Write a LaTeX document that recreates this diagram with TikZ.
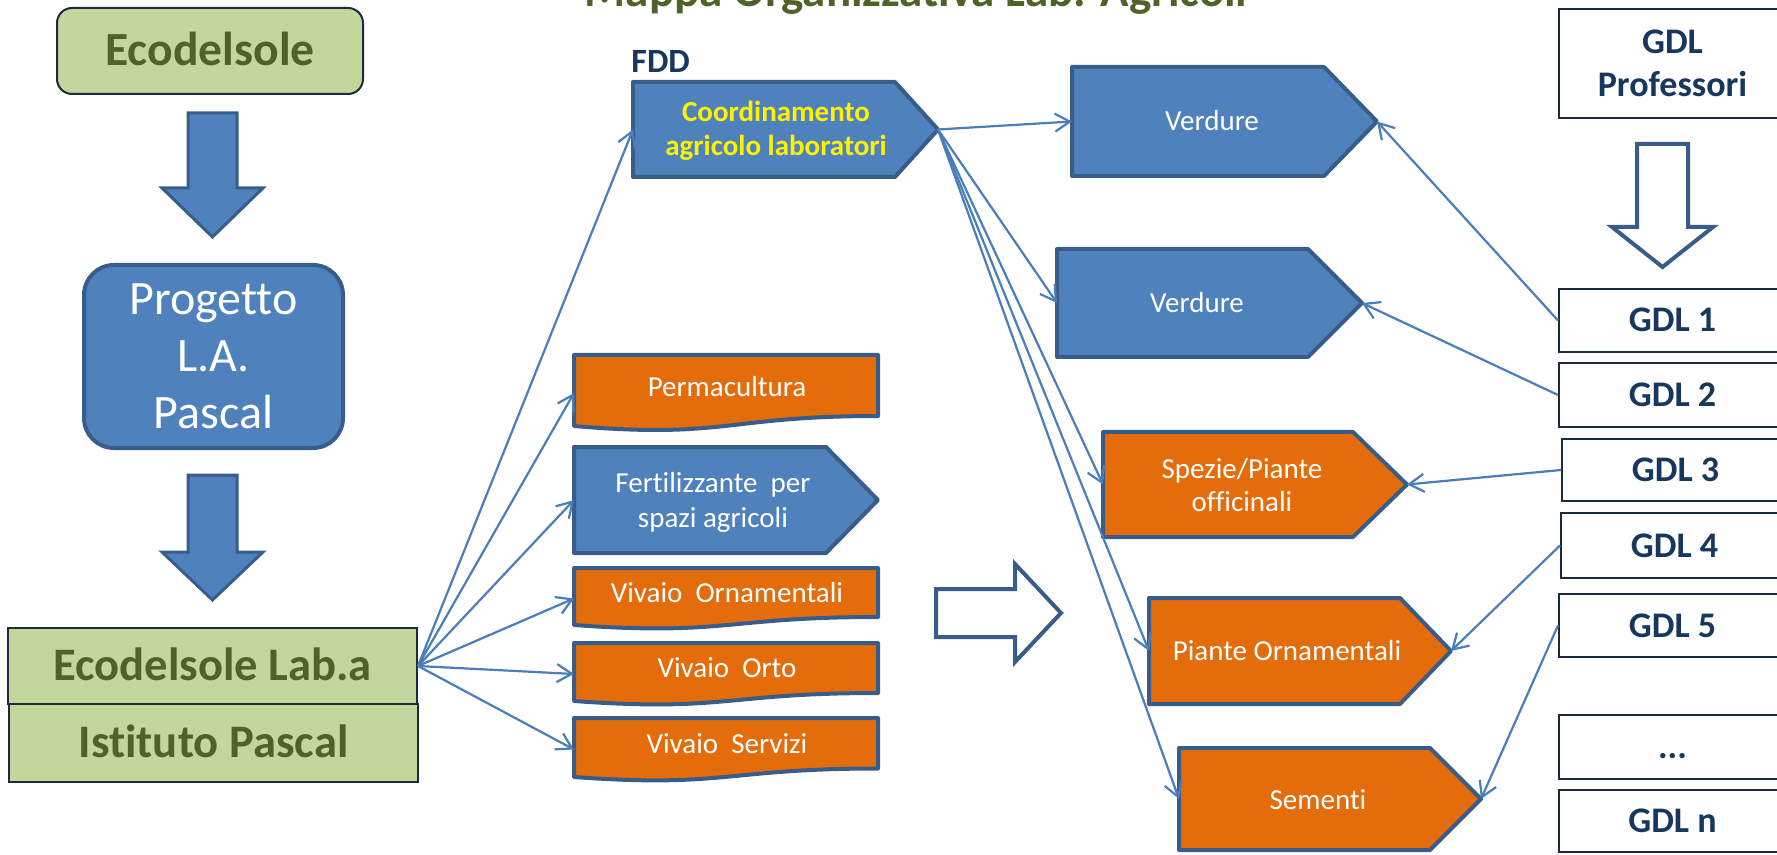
\documentclass[tikz,border=0pt]{standalone}
\usepackage{fontspec}
\setmainfont{Carlito}[Ligatures={NoCommon,NoRequired,NoContextual}]
\usetikzlibrary{arrows.meta,calc}
\newdimen\pxu \pxu=0.5pt
\definecolor{bfill}{HTML}{4F81BD}
\definecolor{bline}{HTML}{385D8A}
\definecolor{ofill}{HTML}{E46C0A}
\definecolor{gfill}{HTML}{C3D69B}
\definecolor{gtext}{HTML}{4F6228}
\definecolor{navy}{HTML}{17375E}
\definecolor{conn}{HTML}{4A7EBB}
\definecolor{gbord}{HTML}{1C2B40}
\begin{document}
\begin{tikzpicture}[x=0.5pt,y=-0.5pt,
  bbx/.style={inner sep=0pt, outer sep=0pt},
  blueshape/.style={fill=bfill, draw=bline, line width=2pt, line join=round},
  orangeshape/.style={fill=ofill, draw=bline, line width=2pt, line join=round},
  bigarrow/.style={fill=bfill, draw=bline, line width=1.5pt, line join=miter},
  hollowarrow/.style={fill=white, draw=bline, line width=2pt, line join=miter},
  greenbox/.style={fill=gfill, draw=gbord, line width=1pt, inner sep=0pt, text height=14.8pt, text depth=0pt, font=\bfseries\fontsize{23.3}{27}\selectfont, text=gtext},
  gdlbox/.style={fill=white, draw=gbord, line width=1pt, inner sep=0pt, font=\bfseries\fontsize{18}{21.5}\selectfont, text=navy},
  gdlone/.style={gdlbox, text height=11.5pt, text depth=0pt},
  smalltxt/.style={inner sep=0pt, text=white, font=\fontsize{14.5}{17}\selectfont},
  link/.style={draw=conn, line width=1.1pt, -{Straight Barb[length=7.5pt,width=9pt]}},
]
\useasboundingbox (0,0) rectangle (1777,855);

% title
\node[anchor=base, inner sep=0pt, text=gtext, font=\bfseries\fontsize{23.5}{28}\selectfont] (title) at (916,7) {Mappa Organizzativa Lab. Agricoli};

% left column
\node[greenbox, font=\bfseries\fontsize{23.8}{27}\selectfont, rounded corners=7.5pt, minimum width=306\pxu, minimum height=86\pxu] (eco) at (210,51) {Ecodelsole};
\draw[bigarrow] (188,113) -- (237,113) -- (237,188) -- (263,188) -- (212.5,237) -- (162,188) -- (188,188) -- cycle;
\node[fill=bfill, draw=bline, line width=2pt, rounded corners=15pt, minimum width=259\pxu, minimum height=183\pxu, inner sep=0pt, text=white, align=center, font=\fontsize{24}{28.5}\selectfont] (prog) at (213.5,356.5) {Progetto\\L.A.\\Pascal};
\draw[bigarrow] (188,475) -- (237,475) -- (237,552) -- (263,552) -- (212.5,600) -- (162,552) -- (188,552) -- cycle;
\node[greenbox, minimum width=409\pxu, minimum height=76\pxu] (laba) at (212.5,666) {Ecodelsole Lab.a};
\node[greenbox, minimum width=409\pxu, minimum height=78\pxu] (ist) at (213.5,743) {Istituto Pascal};

% FDD
\node[anchor=base west, inner sep=0pt, text=navy, font=\bfseries\fontsize{17}{20}\selectfont] (fdd) at (631,73) {FDD};

% Coordinamento
\node[bbx, minimum width=305\pxu, minimum height=95\pxu] (coord) at (785.5,129.5) {};
\draw[blueshape] (coord.north west) -- ([xshift=-43\pxu]coord.north east) -- (coord.east) -- ([xshift=-43\pxu]coord.south east) -- (coord.south west) -- cycle;
\node[smalltxt, text=yellow, align=center, font=\bfseries\fontsize{14.5}{17}\selectfont] (coordt) at (776,131) {Coordinamento\\agricolo laboratori};

% middle column
\node[bbx, minimum width=304\pxu, minimum height=76\pxu] (perma) at (726,393) {};
\draw[orangeshape] (574,355) -- (878,355) -- (878,416) .. controls (726,416) and (726,439) .. (574,426) -- cycle;
\node[smalltxt, anchor=base] (permat) at (727,397) {Permacultura};

\node[bbx, minimum width=304\pxu, minimum height=106\pxu] (fert) at (726,500) {};
\draw[blueshape] (fert.north west) -- ([xshift=-52\pxu]fert.north east) -- (fert.east) -- ([xshift=-52\pxu]fert.south east) -- (fert.south west) -- cycle;
\node[smalltxt, align=center, font=\fontsize{14.5}{17.5}\selectfont] (fertt) at (713,502.5) {Fertilizzante~ per\\spazi agricoli};

\node[bbx, minimum width=304\pxu, minimum height=61\pxu] (vorn) at (726,598.5) {};
\draw[orangeshape] (574,568) -- (878,568) -- (878,617) .. controls (726,617) and (726,636) .. (574,625) -- cycle;
\node[smalltxt, anchor=base] (vornt) at (727,602) {Vivaio~ Ornamentali};

\node[bbx, minimum width=304\pxu, minimum height=62\pxu] (vorto) at (726,674) {};
\draw[orangeshape] (574,643) -- (878,643) -- (878,693) .. controls (726,693) and (726,712) .. (574,701) -- cycle;
\node[smalltxt, anchor=base] (vortot) at (727,677) {Vivaio~ Orto};

\node[bbx, minimum width=304\pxu, minimum height=63\pxu] (vserv) at (726,749.5) {};
\draw[orangeshape] (574,718) -- (878,718) -- (878,768.5) .. controls (726,768.5) and (726,788) .. (574,777) -- cycle;
\node[smalltxt, anchor=base] (vservt) at (727,753) {Vivaio~ Servizi};

% hollow arrow
\draw[hollowarrow] (936,589) -- (1015,589) -- (1015,564) -- (1061,613) -- (1015,662) -- (1015,637) -- (936,637) -- cycle;

% right-middle column
\node[bbx, minimum width=305\pxu, minimum height=109\pxu] (verd1) at (1224.5,121.5) {};
\draw[blueshape] (verd1.north west) -- ([xshift=-53\pxu]verd1.north east) -- (verd1.east) -- ([xshift=-53\pxu]verd1.south east) -- (verd1.south west) -- cycle;
\node[smalltxt, anchor=base] (verd1t) at (1212,131) {Verdure};

\node[bbx, minimum width=305\pxu, minimum height=108\pxu] (verd2) at (1209.5,303) {};
\draw[blueshape] (verd2.north west) -- ([xshift=-54\pxu]verd2.north east) -- (verd2.east) -- ([xshift=-54\pxu]verd2.south east) -- (verd2.south west) -- cycle;
\node[smalltxt, anchor=base] (verd2t) at (1197,312.5) {Verdure};

\node[bbx, minimum width=304\pxu, minimum height=105\pxu] (spez) at (1255,484.5) {};
\draw[orangeshape] (spez.north west) -- ([xshift=-54\pxu]spez.north east) -- (spez.east) -- ([xshift=-54\pxu]spez.south east) -- (spez.south west) -- cycle;
\node[smalltxt, align=center, font=\fontsize{14.5}{16.5}\selectfont] (spezt) at (1242,485) {Spezie/Piante\\officinali};

\node[bbx, minimum width=302\pxu, minimum height=106\pxu] (piante) at (1300,651) {};
\draw[orangeshape] (piante.north west) -- ([xshift=-51\pxu]piante.north east) -- (piante.east) -- ([xshift=-51\pxu]piante.south east) -- (piante.south west) -- cycle;
\node[smalltxt, anchor=base] (piantet) at (1287,660) {Piante Ornamentali};

\node[bbx, minimum width=302\pxu, minimum height=102\pxu] (sem) at (1330,799) {};
\draw[orangeshape] (sem.north west) -- ([xshift=-51\pxu]sem.north east) -- (sem.east) -- ([xshift=-51\pxu]sem.south east) -- (sem.south west) -- cycle;
\node[smalltxt, anchor=base] (semt) at (1318,809) {Sementi};

% GDL column
\node[gdlbox, align=center, minimum width=227\pxu, minimum height=109\pxu] (gdlp) at (1672.5,63.5) {GDL\\Professori};
\draw[hollowarrow] (1637,144) -- (1688,144) -- (1688,227) -- (1713,227) -- (1662.5,267) -- (1612,227) -- (1637,227) -- cycle;
\node[gdlone, minimum width=227\pxu, minimum height=63\pxu] (gdl1) at (1672.5,320.5) {GDL 1};
\node[gdlone, minimum width=227\pxu, minimum height=64\pxu] (gdl2) at (1672.5,395) {GDL 2};
\node[gdlone, minimum width=227\pxu, minimum height=62\pxu] (gdl3) at (1675.5,470) {GDL 3};
\node[gdlone, minimum width=227\pxu, minimum height=65\pxu] (gdl4) at (1674.5,545.5) {GDL 4};
\node[gdlone, minimum width=227\pxu, minimum height=63\pxu] (gdl5) at (1672.5,625.5) {GDL 5};
\node[gdlone, minimum width=227\pxu, minimum height=64\pxu] (gdldots) at (1672.5,747) {...};
\node[gdlone, minimum width=227\pxu, minimum height=62\pxu] (gdln) at (1672.5,821) {GDL n};

% connectors
\foreach \t in {coord,perma,fert,vorn,vorto,vserv}
  \draw[link] (laba.east) -- (\t.west);
\foreach \t in {verd1,verd2,spez,piante,sem}
  \draw[link] (coord.east) -- (\t.west);
\draw[link] (gdl1.west) -- (verd1.east);
\draw[link] (gdl2.west) -- (verd2.east);
\draw[link] (gdl3.west) -- (spez.east);
\draw[link] (gdl4.west) -- (piante.east);
\draw[link] (gdl5.west) -- (sem.east);
\end{tikzpicture}
\end{document}
